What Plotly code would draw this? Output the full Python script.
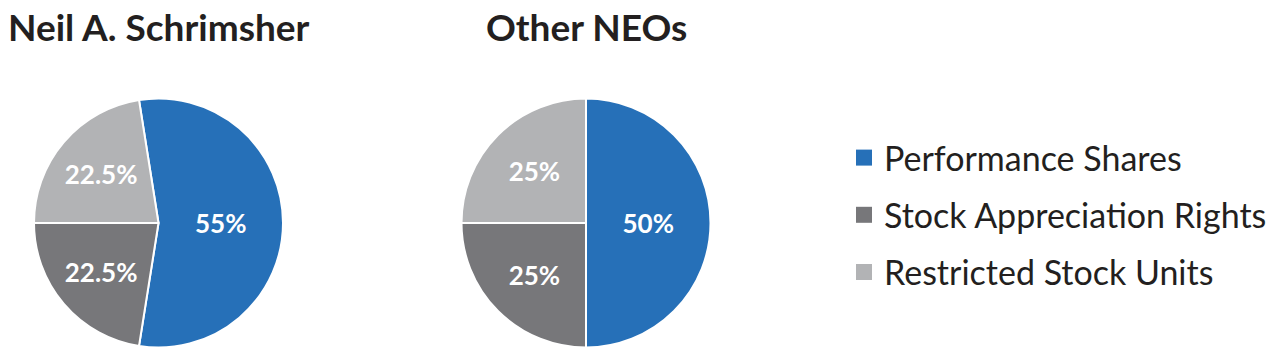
import plotly.graph_objects as go

W, H = 1272, 350

categories = ["Performance Shares", "Stock Appreciation Rights", "Restricted Stock Units"]
schrimsher_values = [55, 22.5, 22.5]
other_neo_values = [50, 25, 25]
titles = ["Neil A. Schrimsher", "Other NEOs"]
colors = ["#2670b8", "#77777a", "#b2b3b5"]

FONT = "Lato"
TEXT_COLOR = "#231f20"

# pie geometry in pixels (center x, center y from top, radius)
pies = [(158.5, 223, 124.5, schrimsher_values, -9), (586, 223, 124.5, other_neo_values, 0)]

fig = go.Figure()
for (cx, cy, r, vals, rot), title in zip(pies, titles):
    fig.add_trace(go.Pie(
        labels=categories,
        values=vals,
        sort=False,
        direction="clockwise",
        rotation=rot,
        marker=dict(colors=colors, line=dict(color="white", width=2)),
        textinfo="percent",
        textposition="inside",
        insidetextorientation="horizontal",
        textfont=dict(family=FONT, size=26, color="white", weight="bold"),
        showlegend=False,
        hoverinfo="label+percent",
        domain=dict(x=[(cx - r) / W, (cx + r) / W],
                    y=[(H - cy - r) / H, (H - cy + r) / H]),
    ))
    fig.add_annotation(
        x=cx / W, y=1 - 2 / H, xref="paper", yref="paper",
        xanchor="center", yanchor="top", showarrow=False,
        text="<b>%s</b>" % title,
        font=dict(family=FONT, size=37, color=TEXT_COLOR),
    )

# legend entries
for i, (cat, col) in enumerate(zip(categories, colors)):
    fig.add_trace(go.Scatter(
        x=[None], y=[None], mode="markers", name=cat,
        marker=dict(symbol="square", size=16, color=col),
        legendgroup="g%d" % i, showlegend=True,
    ))

fig.update_layout(
    width=W, height=H,
    margin=dict(l=0, r=0, t=0, b=0),
    paper_bgcolor="white", plot_bgcolor="white",
    xaxis=dict(visible=False), yaxis=dict(visible=False),
    legend=dict(
        x=844 / W, xanchor="left", y=1 - 129 / H, yanchor="top",
        font=dict(family=FONT, size=34, color=TEXT_COLOR),
        tracegroupgap=10, bgcolor="rgba(0,0,0,0)",
        itemclick=False, itemdoubleclick=False,
    ),
)

fig.write_html("out.html")
